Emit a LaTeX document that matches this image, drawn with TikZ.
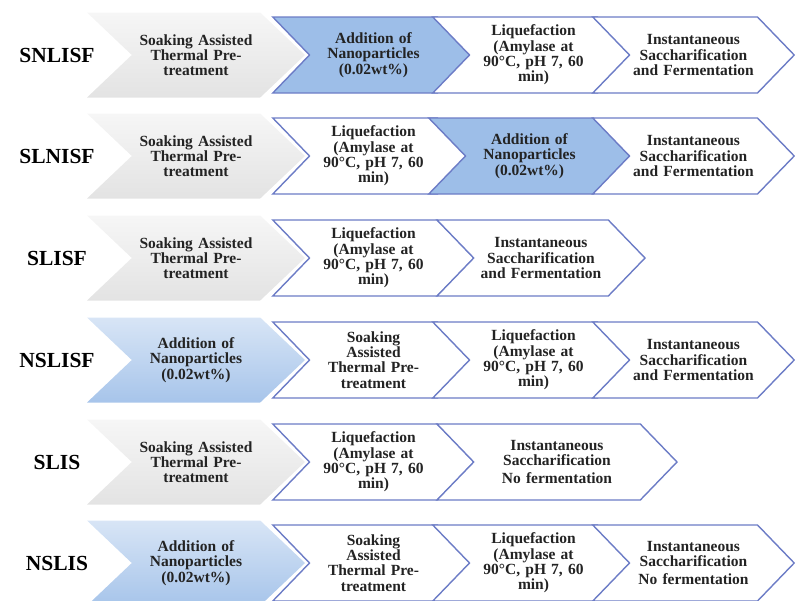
\documentclass[tikz,border=0pt]{standalone}
\usepackage{fontspec}
\setmainfont{Liberation Serif}
\usepackage{xcolor}
\usepackage{tikz}
\usetikzlibrary{shapes.symbols,positioning,calc}

\definecolor{chevline}{RGB}{108,124,198}
\definecolor{nanoblue}{RGB}{157,190,232}
\definecolor{chevtext}{RGB}{35,35,35}

% repeated step texts
\newcommand{\soak}{Soaking Assisted\\ Thermal Pre-\\ treatment}
\newcommand{\soakb}{Soaking\\ Assisted\\ Thermal Pre-\\ treatment}
\newcommand{\nano}{Addition of\\ Nanoparticles\\ (0.02wt\%)}
\newcommand{\liq}{Liquefaction\\ (Amylase at\\ 90°C, pH 7, 60\\ min)}
\newcommand{\isf}{Instantaneous\\ Saccharification\\ and Fermentation}
\newcommand{\isn}{Instantaneous\\ Saccharification\\[3pt] No fermentation}

\tikzset{
    % row name (left)
    rowlabel/.style = {font=\fontsize{21.5}{24}\selectfont\bfseries, text=black},
    % basic chevron
    chevbase/.style = {signal, signal from=west, signal to=east, align=center, inner xsep=0pt,
        text width=128pt, text=chevtext, font=\fontsize{15.5}{15.3}\selectfont\bfseries},
    % first (bevelled) chevron
    fchev/.style = {chevbase, signal pointer angle=87, minimum height=85pt, minimum width=218pt,
        top color=gray!7, middle color=white, bottom color=gray!22},
    fbchev/.style = {fchev, top color=nanoblue!40, middle color=nanoblue!52, bottom color=nanoblue!90},
    % flat chevrons
    wchev/.style = {chevbase, signal pointer angle=92, minimum height=76pt, draw=chevline,
        line width=1.4pt, fill=white, minimum width=#1},
    bchev/.style = {wchev=#1, fill=nanoblue}
}

\begin{document}
\begin{tikzpicture}[x=1pt, y=-1pt]
\useasboundingbox (0,0) rectangle (795,600);

\foreach \r/\y/\lab in {1/55/SNLISF,2/156/SLNISF,3/258/SLISF,4/360/NSLISF,5/462/SLIS,6/563/NSLIS}
  \node [rowlabel] (lab\r) at (57,\y) {\lab};

% SNLISF
\node [fchev] (a1) at (196,55) {\soak};
\node [bchev=197pt] (b1) at (373.5,55) {\nano};
\node [wchev=193pt] (c1) at (533.5,55) {\liq};
\node [wchev=193pt] (d1) at (693.5,55) {\isf};

% SLNISF
\node [fchev] (a2) at (196,156) {\soak};
\node [wchev=197pt] (b2) at (373.5,156) {\liq};
\node [bchev=185pt] (c2) at (529.5,156) {\nano};
\node [wchev=193pt] (d2) at (693.5,156) {\isf};

% SLISF
\node [fchev] (a3) at (196,258) {\soak};
\node [wchev=197pt] (b3) at (373.5,258) {\liq};
\node [wchev=208pt] (c3) at (541,258) {\isf};

% NSLISF
\node [fbchev] (a4) at (196,360) {\nano};
\node [wchev=197pt] (b4) at (373.5,360) {\soakb};
\node [wchev=193pt] (c4) at (533.5,360) {\liq};
\node [wchev=193pt] (d4) at (693.5,360) {\isf};

% SLIS
\node [fchev] (a5) at (196,462) {\soak};
\node [wchev=197pt] (b5) at (373.5,462) {\liq};
\node [wchev=240pt] (c5) at (557,462) {\isn};

% NSLIS
\node [fbchev] (a6) at (196,563) {\nano};
\node [wchev=197pt] (b6) at (373.5,563) {\soakb};
\node [wchev=193pt] (c6) at (533.5,563) {\liq};
\node [wchev=193pt] (d6) at (693.5,563) {\isn};

\end{tikzpicture}
\end{document}
